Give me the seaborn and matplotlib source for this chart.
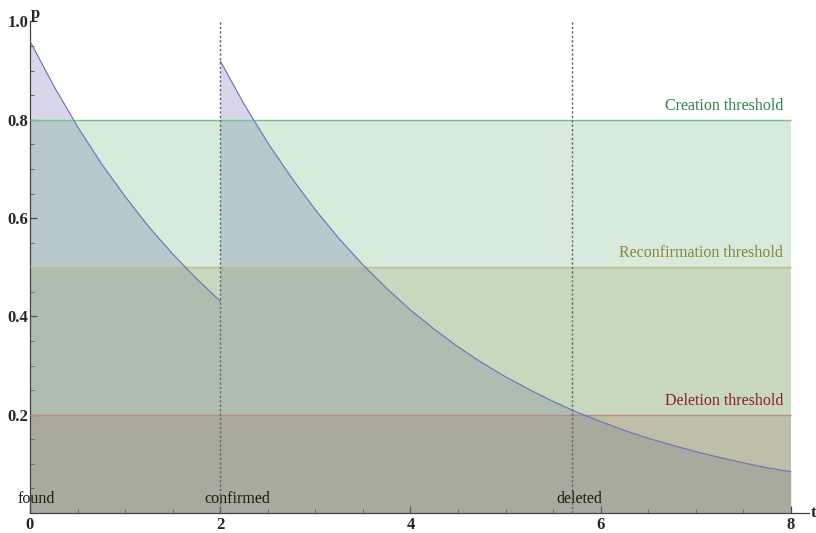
import matplotlib
matplotlib.use("Agg")
import matplotlib.pyplot as plt
from matplotlib.ticker import MultipleLocator
import numpy as np
import pandas as pd
import seaborn as sns

# curve values: decay after "found" (t=0) and after "confirmed" (t=2)
t_found = [0.0, 0.25, 0.5, 0.75, 1.0, 1.25, 1.5, 1.75, 2.0]
p_found = [0.960, 0.869, 0.786, 0.711, 0.644, 0.582, 0.527, 0.477, 0.431]
t_confirmed = [2.0, 2.25, 2.5, 2.75, 3.0, 3.25, 3.5, 3.75, 4.0, 4.25, 4.5, 4.75,
               5.0, 5.25, 5.5, 5.75, 6.0, 6.25, 6.5, 6.75, 7.0, 7.25, 7.5, 7.75, 8.0]
p_confirmed = [0.920, 0.832, 0.753, 0.682, 0.617, 0.558, 0.505, 0.457, 0.413, 0.374,
               0.338, 0.306, 0.277, 0.251, 0.227, 0.205, 0.186, 0.168, 0.152, 0.138,
               0.125, 0.113, 0.102, 0.092, 0.084]

threshold_names = ["Creation threshold", "Reconfirmation threshold", "Deletion threshold"]
threshold_levels = [0.8, 0.5, 0.2]
event_names = ["found", "confirmed", "deleted"]
event_times = [0.0, 2.0, 5.7]
t_max = 8.0

fill_colors = [(55/255, 150/255, 80/255), (140/255, 144/255, 70/255), (150/255, 90/255, 85/255)]
line_colors = ["#7cc08c", "#c2bb84", "#c48494"]
text_colors = ["#2a8448", "#86843a", "#8c1c28"]
curve_color = "#6670bc"
curve_fill = (60/255, 50/255, 150/255)

df = pd.concat([
    pd.DataFrame({"t": t_found, "p": p_found, "seg": "found"}),
    pd.DataFrame({"t": t_confirmed, "p": p_confirmed, "seg": "confirmed"}),
], ignore_index=True)

sns.set_style("ticks")
plt.rcParams["font.family"] = ["Liberation Serif", "DejaVu Serif"]

fig = plt.figure(figsize=(8.16, 5.33), dpi=100)
ax = fig.add_axes([30 / 816, 20 / 533, 779 / 816, 491.5 / 533])

# area under the curve goes underneath the threshold bands
for seg, g in df.groupby("seg", sort=False):
    ax.fill_between(g["t"], 0, g["p"], color=curve_fill, alpha=0.2, linewidth=0, zorder=1)

# threshold bands, each filled down to the axis
for lvl, fc, lc in zip(threshold_levels, fill_colors, line_colors):
    ax.fill_between([0, t_max], 0, lvl, color=fc, alpha=0.2, linewidth=0, zorder=2)
    ax.hlines(lvl, 0, t_max, color=lc, linewidth=1.0, zorder=3)

sns.lineplot(data=df, x="t", y="p", units="seg", estimator=None, color=curve_color,
             linewidth=0.8, ax=ax, zorder=4)

for tv in event_times[1:]:
    ax.vlines(tv, 0, 1.0, color="#606060", linewidth=1.0, linestyles=(0, (1.6, 1.6)), zorder=5)

for name, lvl, tc in zip(threshold_names, threshold_levels, text_colors):
    ax.text(7.92, lvl + 0.012, name, color=tc, fontsize=11.5, ha="right", va="bottom")

label_offsets = [0.06, 0.18, 0.08]
for name, tv, off in zip(event_names, event_times, label_offsets):
    ax.text(tv + off, 0.012, name, color="#1a1a1a", fontsize=11.5, ha="center", va="bottom")

ax.set_xlim(0, 8.19)
ax.set_ylim(0, 1.0)
ax.xaxis.set_minor_locator(MultipleLocator(0.5))
ax.yaxis.set_minor_locator(MultipleLocator(0.05))
ax.set_xticks([0, 2, 4, 6, 8])
ax.set_xticklabels(["0", "2", "4", "6", "8"])
ax.set_yticks([0.2, 0.4, 0.6, 0.8, 1.0])
ax.set_yticklabels(["0.2", "0.4", "0.6", "0.8", "1.0"])
ax.tick_params(which="major", direction="in", length=5, width=0.9, color="#444444",
               labelsize=12, pad=3)
ax.tick_params(which="minor", direction="in", length=3, width=0.7, color="#666666")
for lab in ax.get_xticklabels() + ax.get_yticklabels():
    lab.set_fontweight("bold")
ax.tick_params(axis="y", pad=1)

for side in ["top", "right"]:
    ax.spines[side].set_visible(False)
for side in ["left", "bottom"]:
    ax.spines[side].set_color("#444444")
    ax.spines[side].set_linewidth(0.9)

ax.set_xlabel("")
ax.set_ylabel("")
fig.text(35 / 816, 1 - 14 / 533, "p", fontsize=12, fontweight="bold", ha="center", va="center")
fig.text(811 / 816, 1 - 513 / 533, "t", fontsize=12, fontweight="bold", ha="left", va="center")

fig.savefig("out.png", dpi=100)
